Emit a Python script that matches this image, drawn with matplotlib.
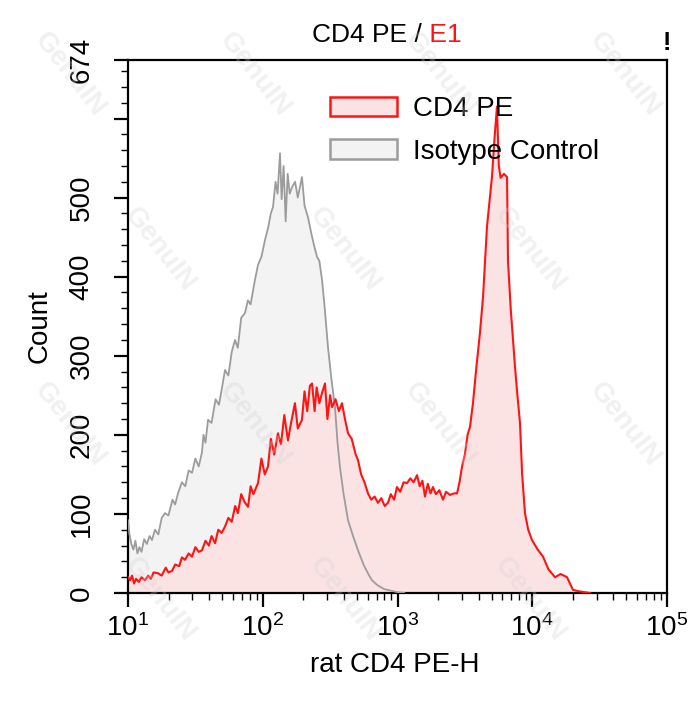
import numpy as np
import matplotlib
matplotlib.use("Agg")
import matplotlib.pyplot as plt
from matplotlib.patches import Patch
from matplotlib.ticker import FixedLocator, LogLocator, NullFormatter, MultipleLocator

plt.rcParams['font.family'] = ['Liberation Sans', 'DejaVu Sans']
plt.rcParams['mathtext.fontset'] = 'custom'
plt.rcParams['mathtext.rm'] = 'Liberation Sans'

# isotype control histogram (log10 of PE-H, count)
iso_log = [1.000, 1.010, 1.025, 1.040, 1.055, 1.070, 1.085, 1.100, 1.120, 1.140,
           1.160, 1.178, 1.200, 1.225, 1.250, 1.275, 1.300, 1.330, 1.350, 1.371,
           1.400, 1.425, 1.450, 1.475, 1.500, 1.525, 1.549, 1.560, 1.575, 1.594,
           1.620, 1.650, 1.675, 1.698, 1.720, 1.745, 1.770, 1.794, 1.815, 1.840,
           1.868, 1.890, 1.910, 1.942, 1.965, 1.990, 2.016, 2.040, 2.060, 2.076,
           2.095, 2.110, 2.128, 2.140, 2.155, 2.170, 2.185, 2.200, 2.217, 2.240,
           2.260, 2.291, 2.310, 2.336, 2.360, 2.380, 2.403, 2.420, 2.440, 2.460,
           2.484, 2.510, 2.536, 2.555, 2.573, 2.600, 2.633, 2.670, 2.707, 2.750,
           2.790, 2.811, 2.850, 2.900, 2.950, 3.000, 3.050]
iso_count = [92, 75, 62, 55, 66, 50, 58, 52, 68, 62,
             72, 67, 80, 74, 95, 101, 98, 118, 112, 126,
             140, 135, 155, 152, 170, 160, 178, 200, 190, 219,
             215, 245, 238, 260, 282, 275, 305, 320, 310, 348,
             354, 370, 365, 396, 415, 425, 446, 462, 480, 488,
             520, 505, 556, 498, 540, 470, 530, 505, 513, 520,
             500, 526, 490, 475, 455, 440, 425, 420, 396, 360,
             311, 270, 235, 190, 159, 125, 92, 72, 54, 35,
             22, 16, 10, 5, 3, 1, 0]

# CD4 PE histogram
cd4_log = [1.000, 1.015, 1.030, 1.045, 1.060, 1.080, 1.100, 1.126, 1.150, 1.170,
           1.190, 1.223, 1.250, 1.280, 1.300, 1.327, 1.350, 1.380, 1.400, 1.423,
           1.450, 1.475, 1.500, 1.525, 1.549, 1.575, 1.600, 1.620, 1.646, 1.670,
           1.695, 1.720, 1.745, 1.770, 1.795, 1.816, 1.840, 1.865, 1.891, 1.910,
           1.930, 1.965, 1.990, 2.015, 2.039, 2.060, 2.085, 2.113, 2.135, 2.160,
           2.187, 2.210, 2.239, 2.260, 2.291, 2.310, 2.330, 2.350, 2.366, 2.385,
           2.400, 2.420, 2.440, 2.462, 2.480, 2.500, 2.514, 2.540, 2.565, 2.588,
           2.610, 2.633, 2.660, 2.690, 2.707, 2.730, 2.755, 2.781, 2.805, 2.830,
           2.855, 2.880, 2.905, 2.929, 2.950, 2.975, 2.996, 3.020, 3.045, 3.071,
           3.095, 3.120, 3.145, 3.165, 3.185, 3.204, 3.225, 3.245, 3.263, 3.285,
           3.310, 3.338, 3.360, 3.390, 3.420, 3.442, 3.460, 3.479, 3.500, 3.520,
           3.538, 3.560, 3.585, 3.612, 3.635, 3.664, 3.680, 3.701, 3.720, 3.738,
           3.752, 3.765, 3.790, 3.813, 3.820, 3.840, 3.872, 3.890, 3.909, 3.925,
           3.946, 3.970, 3.998, 4.040, 4.080, 4.120, 4.169, 4.210, 4.258, 4.280,
           4.302, 4.350, 4.429]
cd4_count = [20, 16, 22, 12, 18, 14, 20, 16, 22, 18,
             26, 25, 22, 32, 26, 28, 36, 34, 45, 42,
             50, 46, 58, 52, 54, 66, 60, 72, 63, 80,
             76, 84, 95, 90, 110, 101, 125, 115, 109, 135,
             125, 139, 170, 150, 160, 195, 175, 202, 188, 225,
             193, 215, 240, 208, 219, 255, 230, 262, 265, 230,
             260, 240, 253, 265, 220, 250, 235, 245, 230, 240,
             220, 202, 195, 175, 168, 150, 140, 126, 118, 122,
             114, 120, 110, 114, 125, 118, 134, 128, 140, 139,
             145, 140, 149, 135, 142, 122, 138, 126, 134, 125,
             130, 118, 128, 124, 126, 126, 140, 160, 175, 200,
             210, 240, 285, 329, 375, 463, 490, 526, 575, 615,
             540, 525, 530, 526, 420, 360, 286, 250, 215, 150,
             101, 80, 67, 55, 46, 30, 20, 24, 20, 12,
             4, 2, 0]

y_major = [0, 100, 200, 300, 400, 500, 600, 674]
y_labels = ['0', '100', '200', '300', '400', '500', '', '674']
x_major = [1e1, 1e2, 1e3, 1e4, 1e5]
x_labels = [r'$\mathregular{10^{1}}$', r'$\mathregular{10^{2}}$', r'$\mathregular{10^{3}}$',
            r'$\mathregular{10^{4}}$', r'$\mathregular{10^{5}}$']

red = '#ff1414'
red_fill = '#fce3e3'
grey = '#9c9c9c'
grey_fill = '#f3f3f3'

fig = plt.figure(figsize=(6.94, 7.02), dpi=100)
ax = fig.add_axes([128/694, 1 - 593/702, 539/694, 533/702])

iso_x = 10 ** np.array(iso_log)
cd4_x = 10 ** np.array(cd4_log)
ax.fill_between(iso_x, 0, iso_count, color=grey_fill, lw=0, zorder=1)
ax.fill_between(cd4_x, 0, cd4_count, color=red_fill, lw=0, zorder=2)
ax.plot(iso_x, iso_count, color=grey, lw=1.3, zorder=3)
ax.plot(cd4_x, cd4_count, color=red, lw=1.5, zorder=4)

ax.set_xscale('log')
ax.set_xlim(1e1, 1e5)
ax.set_ylim(0, 674)
ax.xaxis.set_major_locator(FixedLocator(x_major))
ax.set_xticklabels(x_labels)
ax.xaxis.set_minor_locator(LogLocator(base=10, subs=np.arange(2, 10)))
ax.xaxis.set_minor_formatter(NullFormatter())
ax.yaxis.set_major_locator(FixedLocator(y_major))
ax.set_yticklabels(y_labels)
ax.yaxis.set_minor_locator(MultipleLocator(20))

for s in ax.spines.values():
    s.set_linewidth(1.6)
ax.tick_params(which='major', direction='out', length=10, width=1.6, labelsize=20,
               top=False, right=False)
ax.tick_params(which='minor', direction='out', length=5, width=1.0, top=False, right=False)
ax.tick_params(axis='x', pad=5)
ax.tick_params(axis='y', pad=14)
for lab in ax.get_yticklabels():
    lab.set_rotation(90)
    lab.set_va('center')

fig.text(40/694, 1 - 326/702, 'Count', rotation=90, fontsize=20, ha='center', va='center')
fig.text(395/694, 1 - 672/702, 'rat CD4 PE-H', fontsize=20, ha='center', va='baseline')

# title in two colours
t1 = fig.text(312/694, 1 - 42/702, 'CD4 PE /', fontsize=19, ha='left', va='baseline')
ax.annotate(' E1', xy=(1, 0), xycoords=t1, fontsize=19, color=red, ha='left', va='bottom',
            annotation_clip=False)
fig.text(667/694, 1 - 50/702, '!', fontsize=18, fontweight='bold', ha='center', va='baseline')

handles = [Patch(facecolor=red_fill, edgecolor=red, lw=1.8, label='CD4 PE'),
           Patch(facecolor=grey_fill, edgecolor=grey, lw=1.8, label='Isotype Control')]
ax.legend(handles=handles, loc='upper left', bbox_to_anchor=((330 - 128) / 539, 1 - 36/533),
          frameon=False, fontsize=20, handlelength=2.4, handleheight=0.7,
          handletextpad=0.6, labelspacing=0.6, borderpad=0, borderaxespad=0)

# faint watermark, kept inside the canvas
for row, yy in enumerate([75, 250, 425, 600]):
    xs = [70, 255, 440, 625] if row % 2 == 0 else [160, 345, 530]
    for xx in xs:
        fig.text(xx/694, 1 - yy/702, 'GenuIN', fontsize=20, fontweight='bold', color='#d0d0d0',
                 alpha=0.3, rotation=-52, ha='center', va='center', zorder=10)

fig.savefig('out.png', dpi=100)
